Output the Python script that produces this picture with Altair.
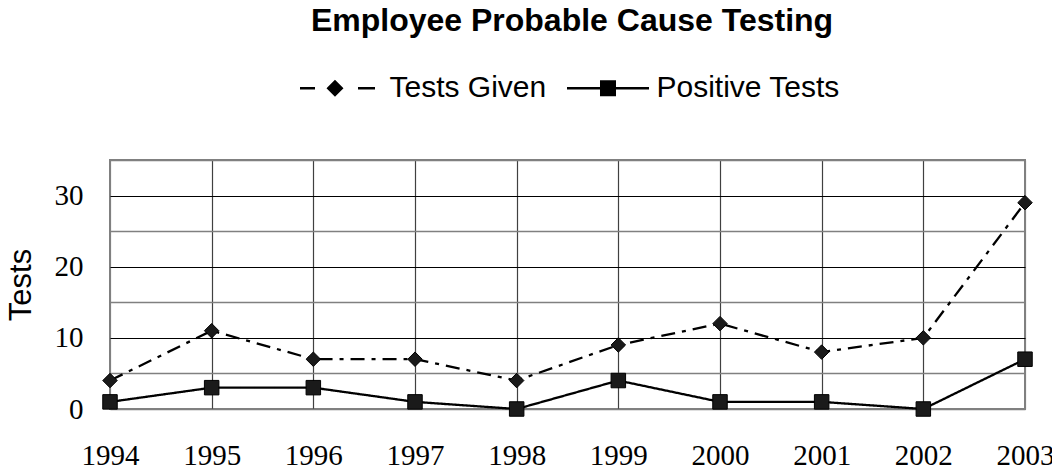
import altair as alt
import pandas as pd

years = [1994, 1995, 1996, 1997, 1998, 1999, 2000, 2001, 2002, 2003]
tests_given = [4, 11, 7, 7, 4, 9, 12, 8, 10, 29]
positive_tests = [1, 3, 3, 1, 0, 4, 1, 1, 0, 7]
series_names = ["Tests Given", "Positive Tests"]
y_ticks = [0, 5, 10, 15, 20, 25, 30, 35]

rows = []
for yr, g, p in zip(years, tests_given, positive_tests):
    rows.append({"year": yr, "series": "Tests Given", "value": g})
    rows.append({"year": yr, "series": "Positive Tests", "value": p})
df = pd.DataFrame(rows)

# ---- legend symbol shapes (line + marker) as filled custom symbol paths ----
R = 42.0  # pixels per symbol unit (sqrt(symbolSize) / 2)


def u(v):
    return f"{v / R:.4f}"


def bar(x0, x1, w=2.5):
    h = w / 2
    return f"M{u(x0)},{u(-h)}L{u(x1)},{u(-h)}L{u(x1)},{u(h)}L{u(x0)},{u(h)}Z"


def diamond(cx, h):
    return f"M{u(cx - h)},0L{u(cx)},{u(-h)}L{u(cx + h)},0L{u(cx)},{u(h)}Z"


def square(cx, h):
    return (f"M{u(cx - h)},{u(-h)}L{u(cx + h)},{u(-h)}"
            f"L{u(cx + h)},{u(h)}L{u(cx - h)},{u(h)}Z")


path_given = bar(-42, -27) + bar(16, 33) + diamond(-7, 8.5)
path_positive = bar(-42, 40) + square(-1, 8)

x_enc = alt.X(
    "year:Q",
    scale=alt.Scale(domain=[1994, 2003], nice=False, zero=False),
    axis=alt.Axis(
        values=years, format="d", title=None, ticks=False, tickSize=0, domain=False,
        labelFont="Liberation Serif", labelFontSize=29, labelColor="black",
        labelBaseline="alphabetic", labelPadding=55, labelAlign="center",
        labelFlush=False, labelOverlap=False,
        grid=True,
        gridColor=alt.condition("datum.value > 1994 && datum.value < 2003",
                                alt.value("#404040"), alt.value("#808080")),
        gridWidth=1.2,
    ),
)

major = "datum.value % 10 === 0 && datum.value > 0 && datum.value < 35"
y_enc = alt.Y(
    "value:Q",
    scale=alt.Scale(domain=[0, 35], nice=False),
    axis=alt.Axis(
        values=y_ticks, title="Tests", ticks=False, tickSize=0, domain=False,
        labelExpr="datum.value % 10 === 0 && datum.value < 35 ? datum.label : ''",
        labelFont="Liberation Serif", labelFontSize=29, labelColor="black",
        labelPadding=27, labelBaseline="middle", labelAlign="right",
        labelOverlap=False, labelFlush=False,
        grid=True,
        gridColor=alt.condition(major, alt.value("black"), alt.value("#808080")),
        gridWidth=alt.condition(major, alt.value(1), alt.value(1.5)),
        titleFont="Liberation Sans", titleFontSize=31, titleFontWeight="normal",
        titleColor="black", titleX=-80, titleY=124.5, titleBaseline="alphabetic",
        titleAngle=270, titleAlign="center",
    ),
)

lines = alt.Chart(df).mark_line(color="black", strokeWidth=2.3).encode(
    x=x_enc,
    y=y_enc,
    strokeDash=alt.StrokeDash(
        "series:N",
        scale=alt.Scale(domain=series_names, range=[[14, 7, 4, 7], [1, 0]]),
        legend=None,
    ),
)

points = alt.Chart(df).mark_point(
    filled=True, color="#1a1a1a", stroke="black", strokeWidth=1, size=210, opacity=1
).encode(
    x=x_enc,
    y=y_enc,
    shape=alt.Shape(
        "series:N",
        scale=alt.Scale(domain=series_names, range=["diamond", "square"]),
        legend=None,
    ),
)

legend_layer = alt.Chart(df).transform_filter("false").mark_point(
    filled=True, color="black", strokeWidth=2.5, opacity=1
).encode(
    x=x_enc,
    y=y_enc,
    shape=alt.Shape(
        "series:N",
        scale=alt.Scale(domain=series_names, range=[path_given, path_positive]),
        legend=alt.Legend(
            orient="none", legendX=188.5, legendY=-115.5, direction="horizontal",
            title=None, symbolSize=7056, symbolStrokeWidth=2.5,
            symbolFillColor="black", symbolStrokeColor="black", symbolOpacity=1,
            labelFont="Liberation Sans", labelFontSize=30, labelColor="black",
            labelOffset=4, labelLimit=400, columnPadding=15, padding=0,
        ),
    ),
)

chart = alt.layer(lines, points, legend_layer).resolve_scale(
    shape="independent"
).properties(
    width=915,
    height=249,
    title=alt.TitleParams(
        "Employee Probable Cause Testing",
        font="Liberation Sans", fontSize=32, fontWeight="bold", color="black",
        anchor="middle", frame="group", offset=7, dx=4.5,
    ),
    autosize=alt.AutoSizeParams(type="none"),
    padding={"left": 102, "top": 152, "right": 27, "bottom": 57},
    background="white",
).configure_view(stroke="#808080", strokeWidth=2)

chart.save("out.html", embed_options={"renderer": "svg", "actions": False})
